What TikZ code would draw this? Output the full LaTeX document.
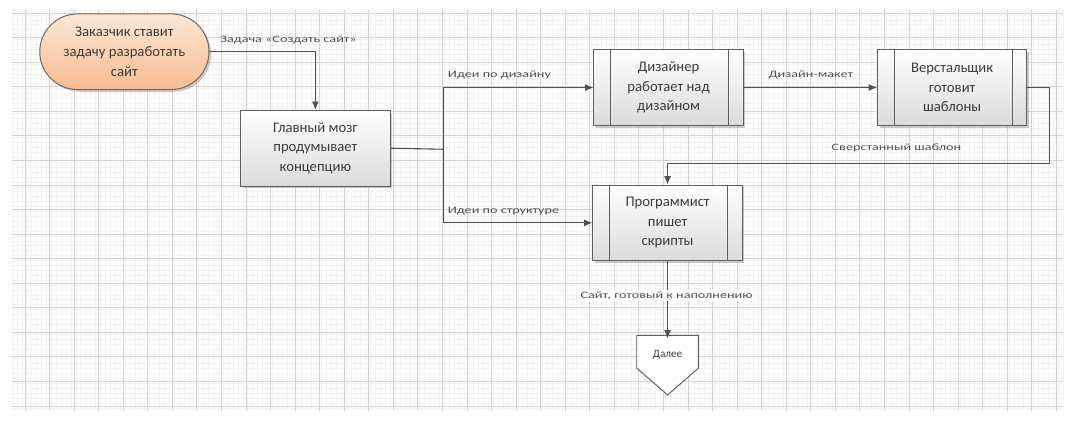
\documentclass[tikz,border=0pt]{standalone}
\usepackage{fontspec}
\setmainfont{Carlito}
\newfontfamily\lblfont{Carlito}[FakeStretch=1.45]
\usepackage{xcolor}
\usetikzlibrary{shadows,arrows.meta}

\definecolor{edgegray}{RGB}{95,95,95}
\definecolor{textgray}{RGB}{60,60,60}
\definecolor{gridmaj}{RGB}{212,212,212}
\definecolor{gridmin}{RGB}{243,243,243}
\definecolor{peach}{RGB}{246,188,146}
\definecolor{peachlt}{RGB}{253,232,214}

\begin{document}
\begin{tikzpicture}[x=0.025cm,y=-0.025cm,
  every node/.style={font=\fontsize{10.5}{14}\selectfont,text=textgray,align=center},
  boxshadow/.style={drop shadow={shadow xshift=1.6pt,shadow yshift=-1.6pt,fill=black!45,opacity=.45}},
  taskbox/.style={draw=edgegray,line width=0.7pt,top color=white,bottom color=gray!28,
    boxshadow,minimum width=3.75cm,minimum height=1.9cm,inner sep=2pt},
  procbox/.style={taskbox,path picture={
    \draw[edgegray,line width=0.7pt]
      ([xshift=0.42cm]path picture bounding box.north west) -- ([xshift=0.42cm]path picture bounding box.south west)
      ([xshift=-0.37cm]path picture bounding box.north east) -- ([xshift=-0.37cm]path picture bounding box.south east);}},
  startbox/.style={draw=edgegray!80!brown,line width=0.7pt,top color=peachlt,bottom color=peach,
    boxshadow,rounded corners=0.95cm,minimum width=4.25cm,minimum height=1.9cm},
  conn/.style={edgegray!85!black,line width=0.8pt,-{Latex[length=6pt,width=5pt]}},
  wire/.style={edgegray!85!black,line width=0.8pt},
  lbl/.style={font=\lblfont\fontsize{7}{8}\selectfont,text=textgray!90,inner sep=1pt}]

% background grid
\fill[white] (0,0) rectangle (1068,425);
\foreach \i in {0,...,215}
  \draw[gridmin,line width=0.3pt] (12+\i*4.936,10) -- (12+\i*4.936,413);
\foreach \j in {0,...,81}
  \draw[gridmin,line width=0.3pt] (12,10+\j*4.936) -- (1068,10+\j*4.936);
\foreach \i in {0,...,42}
  \draw[gridmaj,line width=0.5pt] (25+\i*24.68,10) -- (25+\i*24.68,413);
\foreach \j in {0,...,16}
  \draw[gridmaj,line width=0.5pt] (12,408-\j*24.68) -- (1068,408-\j*24.68);

% shapes
\node[startbox] (client) at (125,52) {Заказчик ставит\\задачу разработать\\сайт};
\node[taskbox] (brain) at (317,149) {Главный мозг\\продумывает\\концепцию};
\node[procbox] (designer) at (672,88) {Дизайнер\\работает над\\дизайном};
\node[procbox] (layout) at (957,88) {Верстальщик\\готовит\\шаблоны};
\node[procbox] (coder) at (671,224) {Программист\\пишет\\скрипты};
% off-page connector
\draw[edgegray,line width=0.7pt,fill=white]
  (640,337) -- (702,337) -- (702,370) -- (671,397) -- (640,370) -- cycle;
\node[minimum width=1.55cm,minimum height=0.825cm,inner sep=0pt,
  font=\fontsize{8}{9}\selectfont] (next) at (671,357) {Далее};

% connectors
\coordinate (fork) at (446,150);
\coordinate (bend) at (1055,164);
\draw[conn] (client.east) -| (brain.north);
\draw[wire] (brain.east) -- (fork);
\draw[conn] (fork) |- (designer.west);
\draw[conn] (fork) |- (coder.west);
\draw[conn] (designer.east) -- (layout.west);
\draw[conn] (layout.east) -| (bend) -| (coder.north);
\draw[conn] (coder.south) -- (next.north);

% labels
\node[lbl] at (290,40) {Задача «Создать сайт»};
\node[lbl] at (502,75) {Идеи по дизайну};
\node[lbl] at (815,75) {Дизайн-макет};
\node[lbl] at (901,149) {Сверстанный шаблон};
\node[lbl] at (506,212) {Идеи по структуре};
\node[lbl,fill=white] at (670,297) {Сайт, готовый к наполнению};
\end{tikzpicture}
\end{document}
